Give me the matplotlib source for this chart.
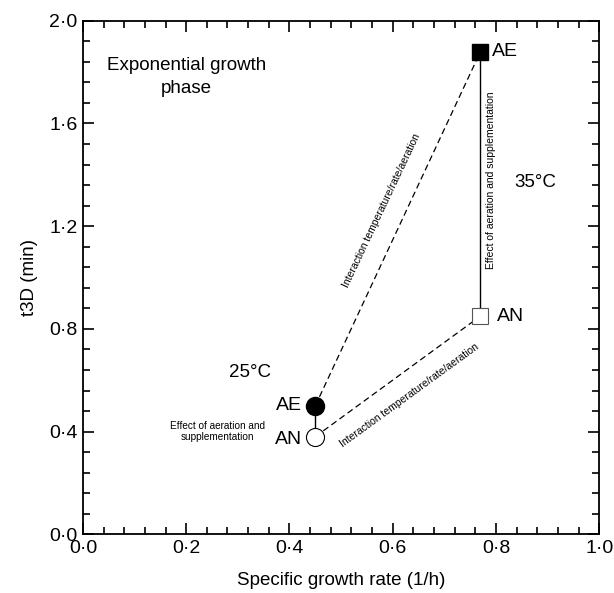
import numpy as np
import matplotlib
matplotlib.use('Agg')
import matplotlib.pyplot as plt
from matplotlib.ticker import MultipleLocator, FuncFormatter

plt.rcParams['font.family'] = ['Liberation Sans', 'DejaVu Sans']

# growth rate (1/h) and t3D (min) for each condition
temps = ['25°C', '35°C']
rate_ae = [0.45, 0.77]
rate_an = [0.45, 0.77]
t3d_ae = [0.50, 1.88]
t3d_an = [0.38, 0.85]

fig = plt.figure(figsize=(6.14, 5.93), dpi=100)
ax = fig.add_axes([0.135, 0.099, 0.841, 0.866])

# effect of aeration (solid) at each temperature
for i in range(2):
    ax.plot([rate_an[i], rate_ae[i]], [t3d_an[i], t3d_ae[i]], color='black', lw=1.0, zorder=2)
# interaction lines (dashed)
ax.plot(rate_ae, t3d_ae, color='black', lw=0.9, dashes=(5, 3), zorder=2)
ax.plot(rate_an, t3d_an, color='black', lw=0.9, dashes=(5, 3), zorder=2)

ax.plot(rate_ae[0], t3d_ae[0], 'o', ms=13, mfc='black', mec='black', zorder=3)
ax.plot(rate_an[0], t3d_an[0], 'o', ms=13, mfc='white', mec='black', mew=0.8, zorder=3)
ax.plot(rate_ae[1], t3d_ae[1], 's', ms=12, mfc='black', mec='black', zorder=3)
ax.plot(rate_an[1], t3d_an[1], 's', ms=12, mfc='white', mec='#555555', mew=0.8, zorder=3)

ax.set_xlim(0, 1.0)
ax.set_ylim(0, 2.0)
ax.xaxis.set_major_locator(MultipleLocator(0.2))
ax.xaxis.set_minor_locator(MultipleLocator(0.04))
ax.yaxis.set_major_locator(MultipleLocator(0.4))
ax.yaxis.set_minor_locator(MultipleLocator(0.08))
fmt = FuncFormatter(lambda v, p: ('%.1f' % v).replace('.', '·'))
ax.xaxis.set_major_formatter(fmt)
ax.yaxis.set_major_formatter(fmt)
ax.tick_params(which='both', direction='in', top=True, right=True, width=1.2, labelsize=14)
ax.tick_params(which='major', length=8, pad=4)
ax.tick_params(which='minor', length=5)
for s in ax.spines.values():
    s.set_linewidth(1.3)

ax.set_xlabel('Specific growth rate (1/h)', fontsize=13.5, labelpad=11)
ax.set_ylabel('t3D (min)', fontsize=13.5, labelpad=8)

ax.text(0.2, 1.78, 'Exponential growth\nphase', fontsize=13.5, ha='center', va='center',
        linespacing=1.5)
ax.text(0.835, 1.37, temps[1], fontsize=13.5, ha='left', va='center')
ax.text(0.365, 0.63, temps[0], fontsize=13.5, ha='right', va='center')

ax.text(rate_ae[0] - 0.025, t3d_ae[0], 'AE', fontsize=14, ha='right', va='center')
ax.text(rate_an[0] - 0.025, t3d_an[0] - 0.01, 'AN', fontsize=14, ha='right', va='center')
ax.text(rate_ae[1] + 0.022, t3d_ae[1], 'AE', fontsize=14, ha='left', va='center')
ax.text(rate_an[1] + 0.032, t3d_an[1], 'AN', fontsize=14, ha='left', va='center')

ax.text(0.26, 0.40, 'Effect of aeration and\nsupplementation', fontsize=7.2,
        ha='center', va='center')
ax.text(0.79, 1.38, 'Effect of aeration and supplementation', fontsize=7.5,
        rotation=90, ha='center', va='center')
ax.text(0.578, 1.26, 'Interaction temperature/rate/aeration', fontsize=7.5,
        rotation=64.7, ha='center', va='center', rotation_mode='anchor')
ax.text(0.632, 0.54, 'Interaction temperature/rate/aeration', fontsize=7.5,
        rotation=36, ha='center', va='center', rotation_mode='anchor')

fig.savefig('out.png', dpi=100)
